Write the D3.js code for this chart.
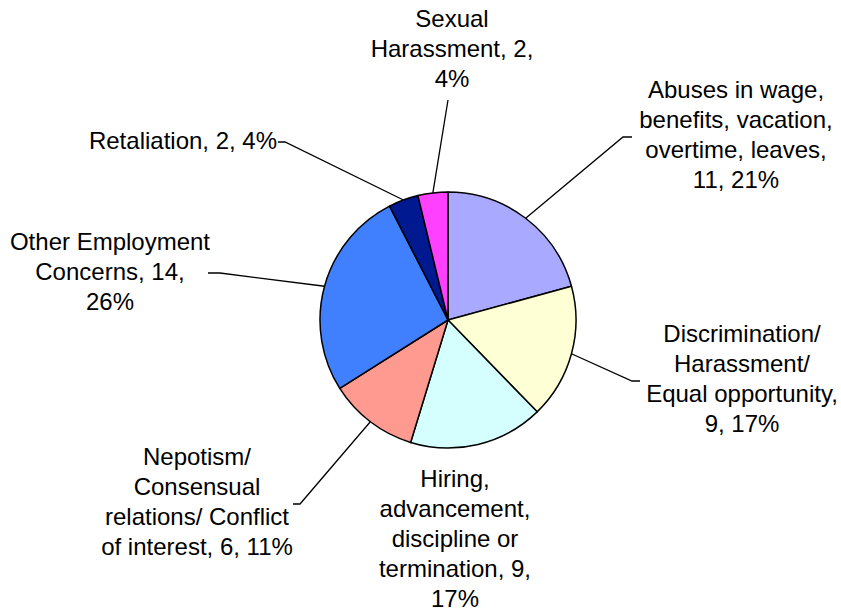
<!DOCTYPE html>
<html>
<head>
<meta charset="utf-8">
<script src="https://cdn.jsdelivr.net/npm/d3@7"></script>
<style>
  html, body { margin: 0; padding: 0; background: #fff; }
  svg text { font-family: "Liberation Sans", Arial, sans-serif; font-size: 24px; fill: #000; }
</style>
</head>
<body>
<div id="chart"></div>
<script>
// slices, clockwise from 12 o'clock
var categories = [
  'Abuses in wage, benefits, vacation, overtime, leaves',
  'Discrimination/ Harassment/ Equal opportunity',
  'Hiring, advancement, discipline or termination',
  'Nepotism/ Consensual relations/ Conflict of interest',
  'Other Employment Concerns',
  'Retaliation',
  'Sexual Harassment'
];
var values = [11, 9, 9, 6, 14, 2, 2];
var colors = ['#a9a9ff', '#ffffd5', '#d5ffff', '#ff9a90', '#4080ff', '#001890', '#ff40ff'];

// label placement: centre x, first baseline, words per line, leader elbow + end
var labelLayout = [
  {x: 736, y: 98,  words: [3, 2, 2, 2],    elbow: [623, 137], end: [632, 137]},
  {x: 742, y: 342, words: [1, 1, 2, 2],    elbow: [632, 381], end: [640, 381]},
  {x: 455, y: 487, words: [1, 1, 2, 2, 1], elbow: null, end: null},
  {x: 197, y: 465, words: [1, 1, 2, 4],    elbow: [300, 504], end: [293, 504]},
  {x: 110, y: 250, words: [2, 2, 1],       elbow: [220, 273], end: [208, 273]},
  {x: 183, y: 149, words: [3],             elbow: [285, 142], end: [278, 142]},
  {x: 452, y: 27,  words: [1, 2, 1],       elbow: [448, 100], end: [448, 100]}
];

var width = 841,
    height = 613,
    cx = 448,
    cy = 320,
    radius = 128,
    lineHeight = 30;

var total = d3.sum(values);
var pct = function (v) { return Math.round(v / total * 100) + '%'; };

var pie = d3.pie().sort(null).value(function (d) { return d; });
var arcs = pie(values);
var arc = d3.arc().innerRadius(0).outerRadius(radius);
var edge = d3.arc().innerRadius(radius).outerRadius(radius);

var svg = d3.select('#chart').append('svg')
  .attr('width', width)
  .attr('height', height);

var g = svg.append('g').attr('transform', 'translate(' + cx + ',' + cy + ')');

g.selectAll('path.slice')
  .data(arcs)
  .enter().append('path')
  .attr('class', 'slice')
  .attr('d', arc)
  .attr('fill', function (d, i) { return colors[i]; })
  .attr('stroke', '#000')
  .attr('stroke-width', 1.5)
  .attr('stroke-linejoin', 'round');

// leader lines
arcs.forEach(function (d, i) {
  var L = labelLayout[i];
  if (!L.elbow) return;
  var p = edge.centroid(d);
  var pts = [[cx + p[0], cy + p[1]], L.elbow, L.end];
  svg.append('path')
    .attr('d', d3.line()(pts))
    .attr('fill', 'none')
    .attr('stroke', '#000')
    .attr('stroke-width', 1.3);
});

// labels
arcs.forEach(function (d, i) {
  var L = labelLayout[i];
  var words = (categories[i] + ', ' + values[i] + ', ' + pct(values[i])).split(' ');
  var lines = [], k = 0;
  L.words.forEach(function (n) {
    lines.push(words.slice(k, k + n).join(' '));
    k += n;
  });
  var t = svg.append('text')
    .attr('text-anchor', 'middle');
  lines.forEach(function (s, j) {
    t.append('tspan')
      .attr('x', L.x)
      .attr('y', L.y + j * lineHeight)
      .text(s);
  });
});
</script>
</body>
</html>
